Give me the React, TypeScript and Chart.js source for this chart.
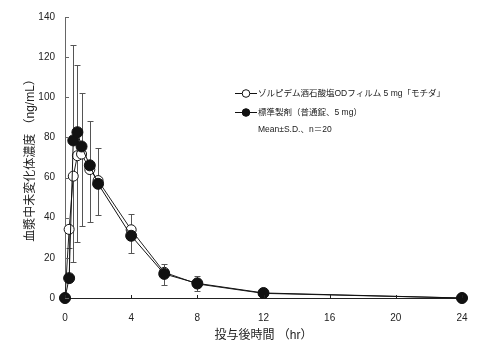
import { useEffect, useRef } from "react";
import { Chart, registerables } from "chart.js";
Chart.register(...registerables);

const times = [0, 0.25, 0.5, 0.75, 1, 1.5, 2, 4, 6, 8, 12, 24];
const filmMean = [0, 34.2, 60.7, 70.9, 71.7, 64, 58.5, 34, 12.8, 7, 2.3, 0];
const filmSD = [0, 22, 42.7, 43, 35.7, 26, 17, 11.6, 6.2, 3.4, 0, 0];
const stdMean = [0, 9.9, 78.5, 82.6, 75.5, 66.1, 56.9, 31, 12, 7.3, 2.5, 0];
const stdSD = [0, 15, 47.5, 33.4, 26.5, 22, 18, 11, 4.8, 3.7, 0, 0];
const xTicks = [0, 4, 8, 12, 16, 20, 24];
const yTicks = [0, 20, 40, 60, 80, 100, 120, 140];

const filmLabel = "ゾルピデム酒石酸塩ODフィルム 5 mg「モチダ」";
const stdLabel = "標準製剤（普通錠、5 mg）";
const noteLabel = "Mean±S.D.、n＝20";
const xTitle = "投与後時間 （hr）";
const yTitle = "血漿中未変化体濃度 （ng/mL）";

const FONT = "'Liberation Sans', Arial, 'Noto Sans CJK JP', sans-serif";

export default function App() {
  const ref = useRef<HTMLCanvasElement>(null);
  useEffect(() => {
    document.body.style.margin = "0";
    const errorBars = {
      id: "errorBars",
      beforeDatasetsDraw(chart: any) {
        const { ctx } = chart;
        const xs = chart.scales.x;
        const ys = chart.scales.y;
        ctx.save();
        ctx.strokeStyle = "#555";
        ctx.lineWidth = 1;
        const draw = (t: number, a: number, b: number) => {
          if (Math.abs(a - b) < 0.01) return;
          const px = Math.round(xs.getPixelForValue(t)) + 0.5;
          const p1 = ys.getPixelForValue(a);
          const p2 = Math.round(ys.getPixelForValue(b)) + 0.5;
          ctx.beginPath();
          ctx.moveTo(px, p1);
          ctx.lineTo(px, p2);
          ctx.moveTo(px - 3, p2);
          ctx.lineTo(px + 3, p2);
          ctx.stroke();
        };
        times.forEach((t, i) => {
          draw(t, stdMean[i], stdMean[i] + stdSD[i]);
          draw(t, filmMean[i], filmMean[i] - filmSD[i]);
        });
        ctx.restore();
      },
      afterDraw(chart: any) {
        const { ctx, chartArea } = chart;
        const xs = chart.scales.x;
        const ys = chart.scales.y;
        ctx.save();
        ctx.lineWidth = 1;
        ctx.strokeStyle = "#666";
        yTicks.forEach((v) => {
          const py = Math.round(ys.getPixelForValue(v)) + 0.5;
          ctx.beginPath();
          ctx.moveTo(chartArea.left, py);
          ctx.lineTo(chartArea.left + 4, py);
          ctx.stroke();
        });
        ctx.strokeStyle = "#222";
        xTicks.forEach((v) => {
          const px = Math.round(xs.getPixelForValue(v)) + 0.5;
          ctx.beginPath();
          ctx.moveTo(px, chartArea.bottom);
          ctx.lineTo(px, chartArea.bottom - 3);
          ctx.stroke();
        });
        // legend
        const lx = chartArea.left + 170;
        const rows = [chartArea.top + 76, chartArea.top + 95];
        const fills = ["#fff", "#111"];
        const labels = [filmLabel, stdLabel];
        ctx.font = `8.5px ${FONT}`;
        ctx.textBaseline = "middle";
        ctx.textAlign = "left";
        rows.forEach((ry, i) => {
          ctx.strokeStyle = "#111";
          ctx.beginPath();
          ctx.moveTo(lx, ry + 0.5);
          ctx.lineTo(lx + 22, ry + 0.5);
          ctx.stroke();
          ctx.beginPath();
          ctx.arc(lx + 11, ry + 0.5, 3.8, 0, Math.PI * 2);
          ctx.fillStyle = fills[i];
          ctx.fill();
          ctx.stroke();
          ctx.fillStyle = "#1a1a1a";
          ctx.fillText(labels[i], lx + 23, ry + 0.5);
        });
        ctx.fillText(noteLabel, lx + 23, chartArea.top + 113);
        ctx.restore();
      },
    };

    const chart = new Chart(ref.current!, {
      type: "line",
      data: {
        datasets: [
          {
            label: filmLabel,
            data: times.map((t, i) => ({ x: t, y: filmMean[i] })),
            borderColor: "#222",
            borderWidth: 1,
            pointBackgroundColor: "#fff",
            pointBorderColor: "#111",
            pointBorderWidth: 1,
            pointRadius: 5,
            tension: 0,
            clip: false as any,
            order: 1,
          },
          {
            label: stdLabel,
            data: times.map((t, i) => ({ x: t, y: stdMean[i] })),
            borderColor: "#111",
            borderWidth: 1,
            pointBackgroundColor: "#111",
            pointBorderColor: "#111",
            pointBorderWidth: 1,
            pointRadius: 5.5,
            tension: 0,
            clip: false as any,
            order: 0,
          },
        ],
      },
      options: {
        animation: false,
        responsive: true,
        maintainAspectRatio: false,
        layout: { padding: { top: 17, right: 31, left: 0, bottom: 0 } },
        plugins: { legend: { display: false }, tooltip: { enabled: false } },
        scales: {
          x: {
            type: "linear",
            min: 0,
            max: 24,
            afterFit: (s: any) => {
              s.height = 54;
            },
            afterBuildTicks: (s: any) => {
              s.ticks = xTicks.map((v) => ({ value: v }));
            },
            grid: { display: false, drawTicks: false },
            border: { display: true, color: "#222", width: 1 },
            ticks: { padding: 14, color: "#222", font: { size: 10, family: FONT } },
            title: {
              display: true,
              text: xTitle,
              color: "#222",
              font: { size: 12, family: FONT },
              padding: { top: 0, bottom: 9 },
            },
          },
          y: {
            type: "linear",
            min: 0,
            max: 140,
            afterFit: (s: any) => {
              s.width = 65;
            },
            afterBuildTicks: (s: any) => {
              s.ticks = yTicks.map((v) => ({ value: v }));
            },
            grid: { display: false, drawTicks: false },
            border: { display: true, color: "#666", width: 1 },
            ticks: { padding: 10, color: "#222", font: { size: 10, family: FONT } },
            title: {
              display: true,
              text: yTitle,
              color: "#222",
              font: { size: 12, family: FONT },
              padding: { top: 23, bottom: 0 },
            },
          },
        },
      },
      plugins: [errorBars],
    });
    return () => chart.destroy();
  }, []);
  return (
    <div style={{ width: 493, height: 352, position: "relative" }}>
      <canvas ref={ref} />
    </div>
  );
}
